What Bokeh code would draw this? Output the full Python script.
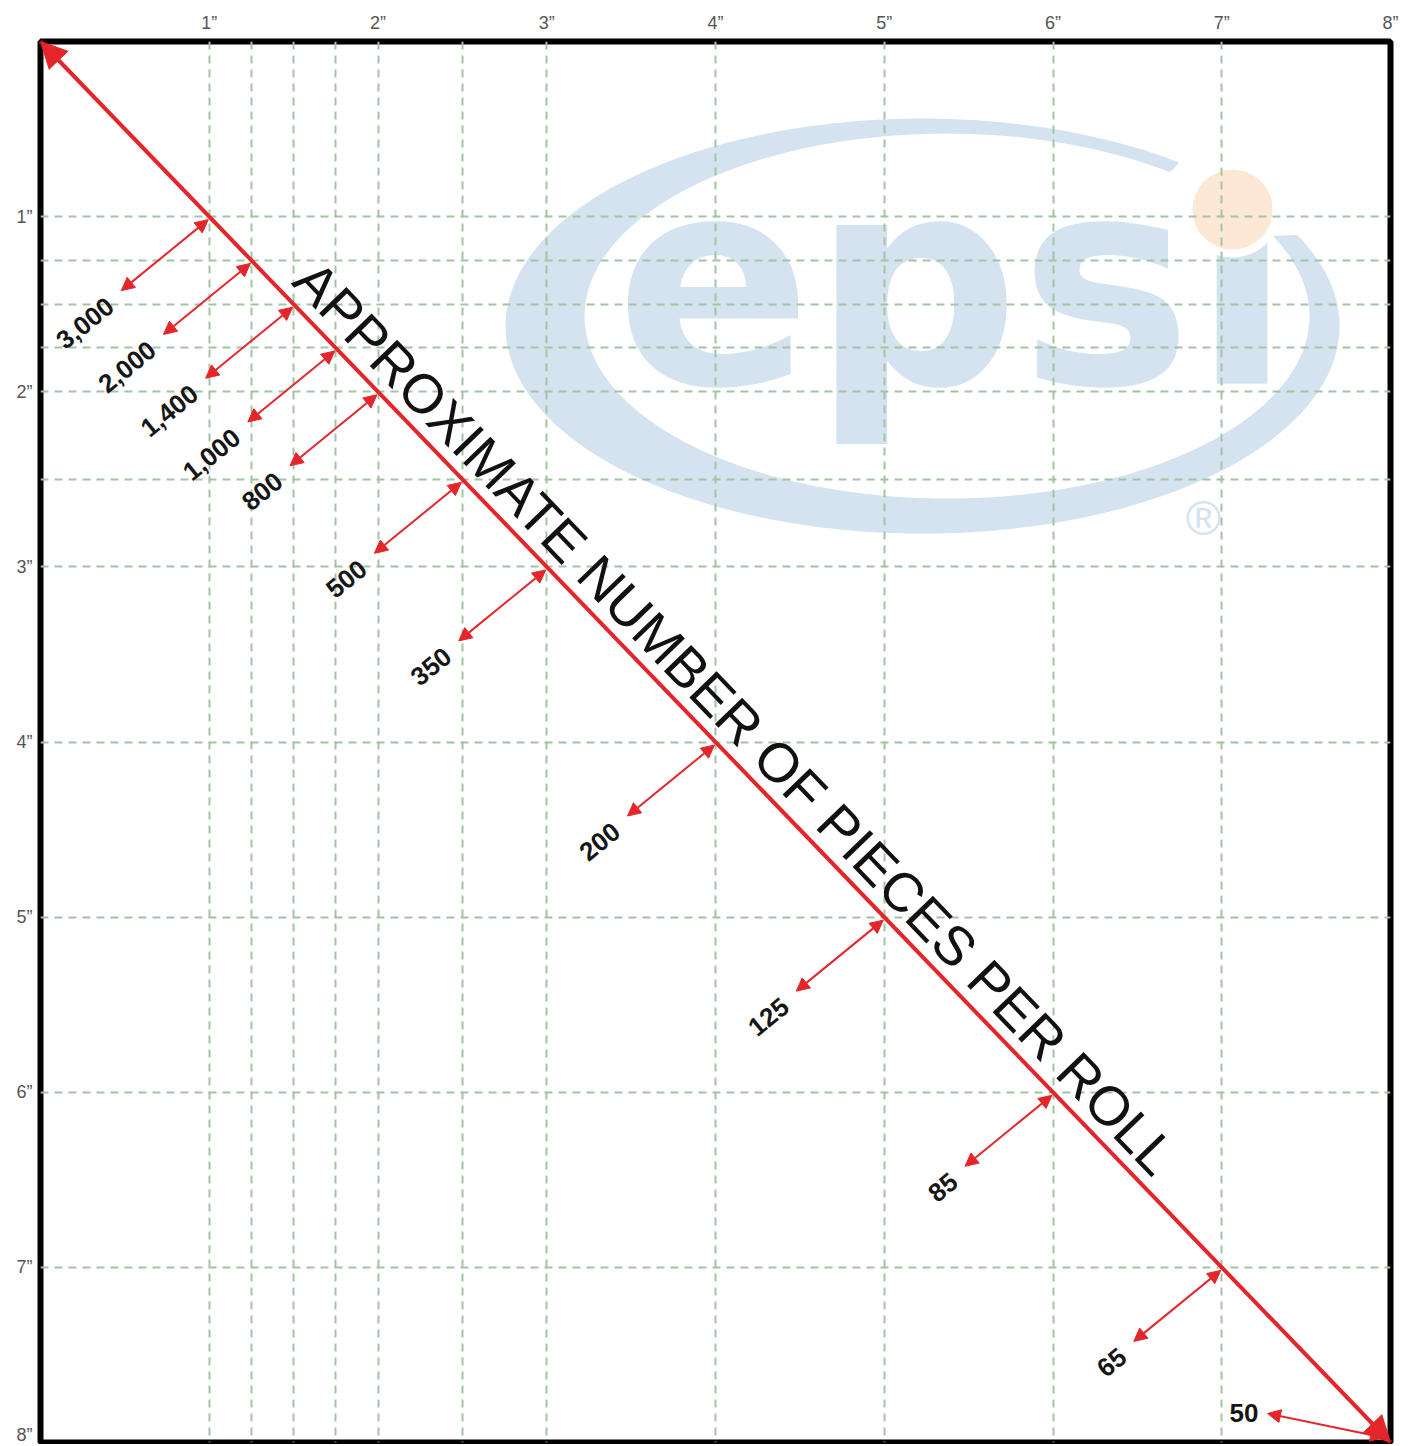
import math
import numpy as np
from bokeh.plotting import figure
from bokeh.models import Range1d, FixedTicker, ColumnDataSource, Arrow, NormalHead
from bokeh.core.properties import value
from bokeh.embed import file_html
from bokeh.resources import INLINE

# ---------------- data ----------------
INCH_TICKS = [1, 2, 3, 4, 5, 6, 7, 8]
INCH_LABELS = ["1\u201d", "2\u201d", "3\u201d", "4\u201d", "5\u201d", "6\u201d", "7\u201d", "8\u201d"]
FINE_GRID = [1.25, 1.5, 1.75, 2.5]
ROLL_SIZE_IN = [1, 1.25, 1.5, 1.75, 2, 2.5, 3, 4, 5, 6, 7, 8]
PIECES = ["3,000", "2,000", "1,400", "1,000", "800", "500", "350", "200", "125", "85", "65", "50"]
TITLE = "APPROXIMATE NUMBER OF PIECES PER ROLL"
LOGO = "epsi"
REG = "\u00ae"

# ---------------- layout / style ----------------
W, H = 1410, 1444
MB_L, MB_T, MB_R, MB_B = 40, 41, 20, 2
FRAME_W = W - MB_L - MB_R
FRAME_H = H - MB_T - MB_B
AX_MAX = INCH_TICKS[-1]
PX_X = FRAME_W / AX_MAX
PX_Y = FRAME_H / AX_MAX
THETA = math.atan2(PX_Y, PX_X)

RED = "#e4262b"
GRID = "#a2c4a2"
LOGO_BLUE = "#d5e3f1"
LOGO_ORANGE = "#fde9d3"

p = figure(width=W, height=H,
           x_range=Range1d(0, AX_MAX), y_range=Range1d(AX_MAX, 0),
           x_axis_location="above", y_axis_location="left",
           output_backend="svg", toolbar_location=None,
           min_border_left=MB_L, min_border_top=MB_T,
           min_border_right=MB_R, min_border_bottom=MB_B,
           background_fill_color="white", border_fill_color="white")

# axes
all_ticks = sorted(INCH_TICKS + FINE_GRID)
overrides = {t: "" for t in FINE_GRID}
overrides.update({t: l for t, l in zip(INCH_TICKS, INCH_LABELS)})
for ax, standoff in ((p.xaxis[0], 3), (p.yaxis[0], 2)):
    ax.ticker = FixedTicker(ticks=all_ticks)
    ax.major_label_overrides = overrides
    ax.axis_line_color = None
    ax.major_tick_line_color = None
    ax.minor_tick_line_color = None
    ax.major_label_text_font = "Liberation Sans"
    ax.major_label_text_font_size = "18px"
    ax.major_label_text_color = "#555555"
    ax.major_label_standoff = standoff

for g in (p.xgrid[0], p.ygrid[0]):
    g.grid_line_color = GRID
    g.grid_line_width = 2
    g.grid_line_dash = "8 6"

p.outline_line_color = "black"
p.outline_line_width = 6
p.outline_line_alpha = 1.0

# ---------------- logo watermark (under the grid) ----------------
O_CX, O_CY, O_A, O_B = 5.227, 1.625, 2.471, 1.185
I_CX, I_CY, I_A, I_B = 5.372, 1.568, 2.148, 1.042
GAP_FROM, GAP_TO = math.radians(26), math.radians(52)
t = np.linspace(GAP_TO, GAP_FROM + 2 * math.pi, 400)
ox = O_CX + O_A * np.cos(t)
oy = O_CY - O_B * np.sin(t)
ix = I_CX + I_A * np.cos(t[::-1])
iy = I_CY - I_B * np.sin(t[::-1])
p.patch(np.concatenate([ox, ix]), np.concatenate([oy, iy]),
        fill_color=LOGO_BLUE, line_color=None, level="image")

p.text(x=[3.407], y=[1.38], text=[LOGO], text_font=value("DejaVu Sans"),
       text_font_style="bold", text_font_size="290px", text_color=LOGO_BLUE,
       text_align="left", text_baseline="alphabetic", level="image")
# cover the font's own i-dot, replaced by the round orange dot
p.quad(left=[6.945], right=[7.35], top=[0.59], bottom=[0.975],
       fill_color="white", line_color=None, level="image")
p.scatter(x=[7.064], y=[0.959], size=88, marker="circle",
          fill_color=LOGO_ORANGE, line_color="white", line_width=8, level="image")
p.text(x=[6.892], y=[2.724], text=[REG], text_font=value("Liberation Sans"),
       text_font_size="48px", text_color=LOGO_BLUE,
       text_align="center", text_baseline="middle", level="image")

# ---------------- main diagonal ----------------
p.add_layout(Arrow(x_start=0, y_start=0, x_end=AX_MAX, y_end=AX_MAX,
                   line_color=RED, line_width=4,
                   start=NormalHead(size=26, fill_color=RED, line_color=RED),
                   end=NormalHead(size=26, fill_color=RED, line_color=RED)))

# title along the diagonal
TITLE_START = 1.43
TITLE_GAP = 31
p.text(x=[TITLE_START], y=[TITLE_START], text=[TITLE],
       angle=[-THETA], x_offset=[TITLE_GAP * math.sin(THETA)],
       y_offset=[-TITLE_GAP * math.cos(THETA)],
       text_font=value("Liberation Sans"), text_font_size="55px",
       text_color="#111111", text_align="left", text_baseline="alphabetic")

# ---------------- small dimension arrows ----------------
def px2in(dx, dy):
    return dx / PX_X, dy / PX_Y

n = len(ROLL_SIZE_IN)
last = n - 1
s_off = [px2in(-1, 3) if i != last else px2in(-7, -5) for i in range(n)]
e_off = [px2in(-88, 74) if i != last else px2in(-123, -29) for i in range(n)]
xs = [v + o[0] for v, o in zip(ROLL_SIZE_IN, s_off)]
ys = [v + o[1] for v, o in zip(ROLL_SIZE_IN, s_off)]
xe = [v + o[0] for v, o in zip(ROLL_SIZE_IN, e_off)]
ye = [v + o[1] for v, o in zip(ROLL_SIZE_IN, e_off)]

arr_src = ColumnDataSource(dict(xs=xs, ys=ys, xe=xe, ye=ye))
p.add_layout(Arrow(x_start="xs", y_start="ys", x_end="xe", y_end="ye", source=arr_src,
                   line_color=RED, line_width=2,
                   start=NormalHead(size=13, fill_color=RED, line_color=RED),
                   end=NormalHead(size=13, fill_color=RED, line_color=RED)))

LABEL_ANGLE = math.radians(39)
lab_src = ColumnDataSource(dict(
    x=xe, y=ye, text=PIECES,
    angle=[LABEL_ANGLE if i != last else 0.0 for i in range(n)],
    xo=[-11 if i != last else -9 for i in range(n)],
    yo=[12 if i != last else -1 for i in range(n)],
))
p.text(x="x", y="y", text="text", angle="angle", x_offset="xo", y_offset="yo",
       source=lab_src, text_font=value("Liberation Sans"), text_font_style="bold",
       text_font_size="26px", text_color="#161616",
       text_align="right", text_baseline="middle")

open("out.html", "w").write(file_html(p, INLINE))
